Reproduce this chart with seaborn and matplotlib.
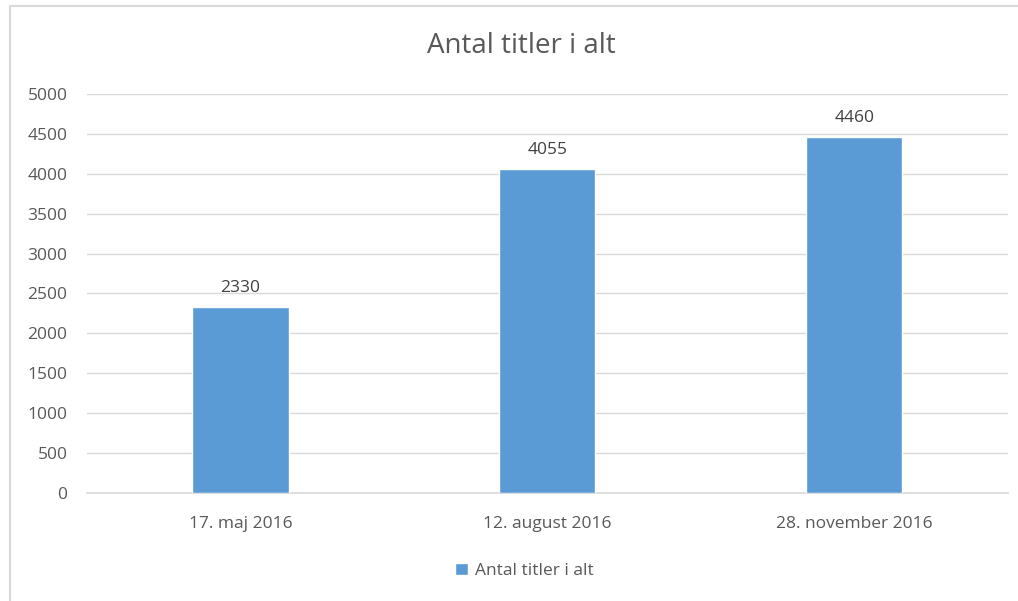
import matplotlib
matplotlib.use("Agg")
import matplotlib.pyplot as plt
import seaborn as sns
import pandas as pd
from matplotlib.patches import Rectangle

# ============================
# data
# ============================
DATES = ["17. maj 2016", "12. august 2016", "28. november 2016"]
COUNTS = [2330, 4055, 4460]
SERIES = "Antal titler i alt"
Y_TICKS = list(range(0, 5001, 500))

BAR_COLOR = "#5B9BD5"
TEXT_COLOR = "#595959"
GRID_COLOR = "#D9D9D9"

sns.set_theme(style="white")
plt.rcParams["font.family"] = ["Open Sans", "DejaVu Sans"]

df = pd.DataFrame({"dato": DATES, "antal": COUNTS, "serie": SERIES})

fig = plt.figure(figsize=(10.18, 6.01), dpi=100)
ax = fig.add_axes([0.0855, 0.1797, 0.9045, 0.664])

sns.barplot(data=df, x="dato", y="antal", hue="serie", palette=[BAR_COLOR],
            width=0.313, saturation=1, ax=ax, legend=True, zorder=3)

ax.set_ylim(0, 5000)
ax.set_xlim(-0.5, len(DATES) - 0.5)
ax.set_yticks(Y_TICKS)
ax.set_yticklabels([str(t) for t in Y_TICKS])
ax.yaxis.grid(True, color=GRID_COLOR, linewidth=1)
ax.set_axisbelow(True)
for s in ["top", "right", "left"]:
    ax.spines[s].set_visible(False)
ax.spines["bottom"].set_color(GRID_COLOR)
ax.tick_params(axis="both", length=0, colors=TEXT_COLOR, labelsize=12.5)
ax.tick_params(axis="y", pad=14)
ax.tick_params(axis="x", pad=16.5)
ax.set_xlabel("")
ax.set_ylabel("")

for c in ax.containers:
    ax.bar_label(c, fmt="%d", padding=8, color="#404040", fontsize=12.5)

fig.text(521 / 1018, 1 - 46 / 601, SERIES, fontsize=20, color=TEXT_COLOR,
         ha="center", va="center")

leg = ax.legend(loc="center", bbox_to_anchor=(0.475, -0.195), frameon=False,
                fontsize=12.5, handlelength=0.7, handleheight=0.7, handletextpad=0.4)
for t in leg.get_texts():
    t.set_color(TEXT_COLOR)

# chart border like Excel
fig.patches.append(Rectangle((10 / 1018, -0.05), 1.2, 1 - 6 / 601 + 0.05,
                             transform=fig.transFigure, fill=False,
                             edgecolor="#D9D9D9", linewidth=1.5))

fig.savefig("out.png", dpi=100)
